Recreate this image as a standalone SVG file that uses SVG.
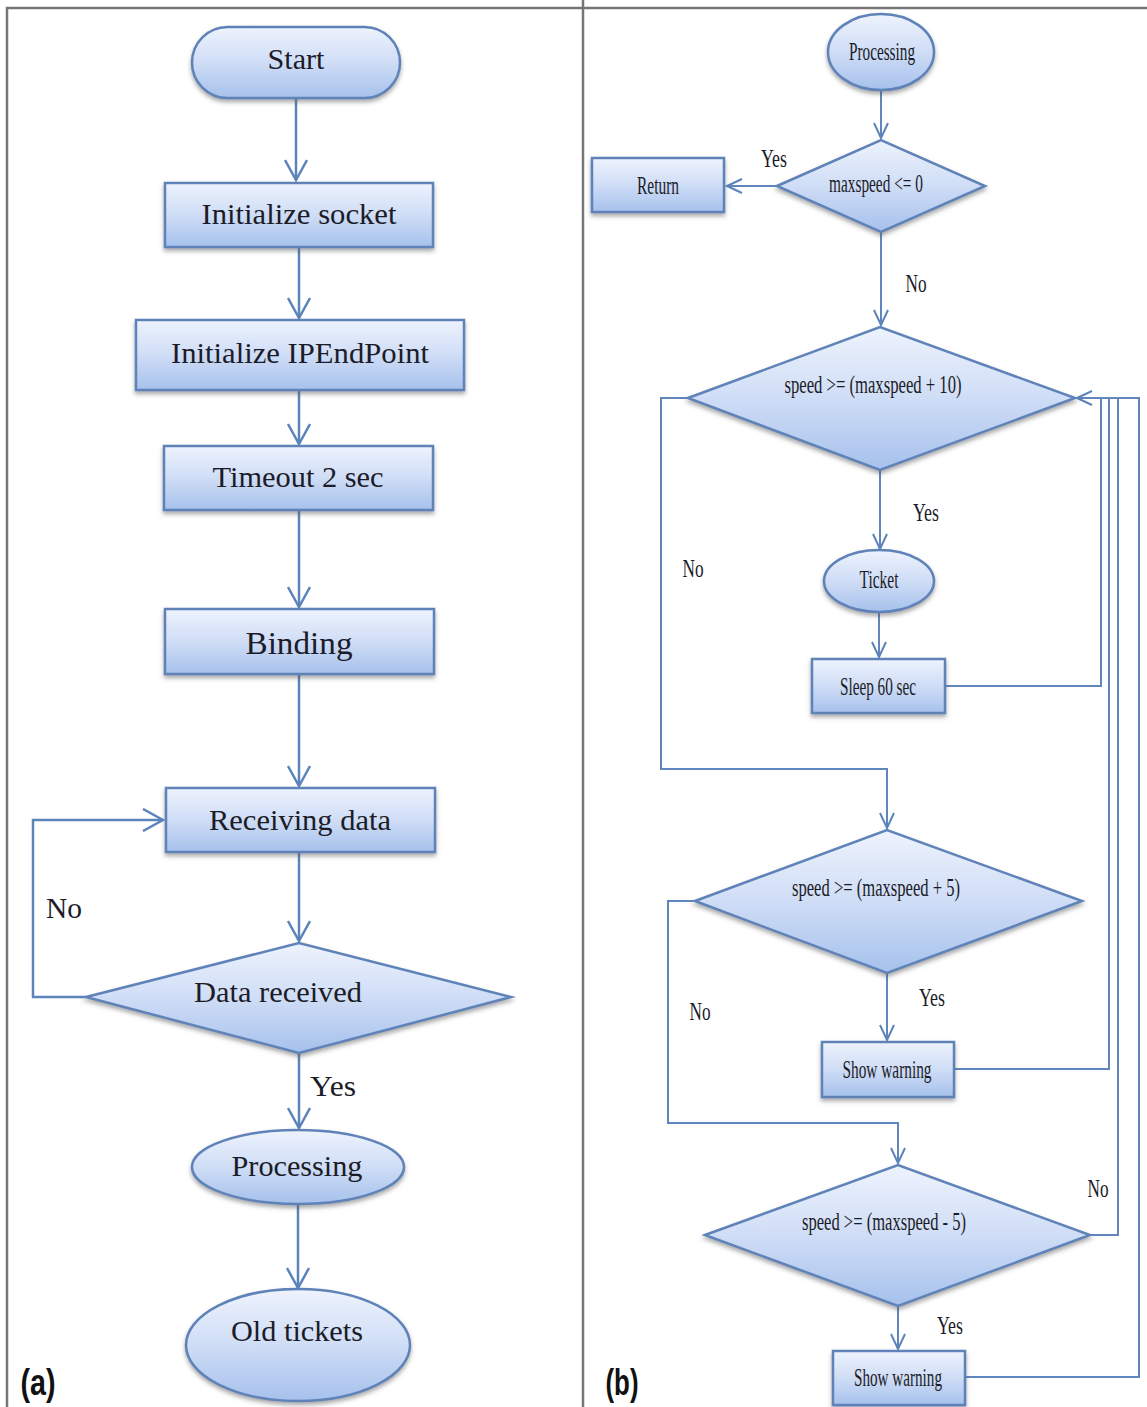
<svg xmlns="http://www.w3.org/2000/svg" width="1147" height="1407" viewBox="0 0 1147 1407">
<defs>
<linearGradient id="g" x1="0" y1="0" x2="0" y2="1">
<stop offset="0" stop-color="#eef3fd"/>
<stop offset="0.5" stop-color="#cfddf6"/>
<stop offset="1" stop-color="#a6c1ec"/>
</linearGradient>
<filter id="sh" x="-10%" y="-10%" width="120%" height="130%">
<feDropShadow dx="0" dy="3" stdDeviation="2" flood-color="#555" flood-opacity="0.5"/>
</filter>
<marker id="ab" viewBox="0 0 24 24" refX="22" refY="12" markerWidth="24" markerHeight="24" markerUnits="userSpaceOnUse" orient="auto">
<path d="M2,1 L22,12 L2,23" fill="none" stroke="#5b84bb" stroke-width="2.5"/>
</marker>
<marker id="as" viewBox="0 0 18 16" refX="16" refY="8" markerWidth="18" markerHeight="16" markerUnits="userSpaceOnUse" orient="auto">
<path d="M1,1 L16,8 L1,15" fill="none" stroke="#5b84bb" stroke-width="2"/>
</marker>
</defs>
<style>
.n{fill:url(#g);stroke:#5f83b8;stroke-width:2.5;filter:url(#sh)}
.c{fill:none;stroke:#5b84bb;stroke-width:2.5}
.cs{fill:none;stroke:#6086bb;stroke-width:2}
.t{font-family:"Liberation Serif","Times New Roman",serif;fill:#1c1c28;text-anchor:middle;dominant-baseline:central}
.l{font-size:30px}
.r{font-size:25px}
.lab{font-family:"Liberation Sans",Arial,sans-serif;font-weight:bold;font-size:36px;fill:#111;text-anchor:middle;dominant-baseline:central}
.bd{fill:none;stroke:#777;stroke-width:2.5}
</style>
<rect width="1147" height="1407" fill="#fff"/>
<g id="frame">
<path class="bd" d="M7,1407 V8 H1147"/>
<path class="bd" d="M583,0 V1407"/>
</g>
<g id="connectors">
<path class="c" d="M296,98 V180" marker-end="url(#ab)"/>
<path class="c" d="M299,247 V318" marker-end="url(#ab)"/>
<path class="c" d="M299,390 V444" marker-end="url(#ab)"/>
<path class="c" d="M299,510 V607" marker-end="url(#ab)"/>
<path class="c" d="M299,674 V786" marker-end="url(#ab)"/>
<path class="c" d="M299,852 V941" marker-end="url(#ab)"/>
<path class="c" d="M86,997 H33 V820 H163" marker-end="url(#ab)"/>
<path class="c" d="M299,1053 V1128" marker-end="url(#ab)"/>
<path class="c" d="M298,1204 V1288" marker-end="url(#ab)"/>
<path class="cs" d="M881,90 V138" marker-end="url(#as)"/>
<path class="cs" d="M777,186 H727" marker-end="url(#as)"/>
<path class="cs" d="M881,232 V325" marker-end="url(#as)"/>
<path class="cs" d="M880,470 V549" marker-end="url(#as)"/>
<path class="cs" d="M879,612 V657" marker-end="url(#as)"/>
<path class="cs" d="M945,686 H1101 V398"/>
<path class="cs" d="M954,1069 H1109 V398"/>
<path class="cs" d="M1090,1235 H1118 V398"/>
<path class="cs" d="M965,1377 H1139 V398 H1077" marker-end="url(#as)"/>
<path class="cs" d="M688,398 H661 V769 H887 V828" marker-end="url(#as)"/>
<path class="cs" d="M887,973 V1040" marker-end="url(#as)"/>
<path class="cs" d="M695,901 H668 V1123 H898 V1163" marker-end="url(#as)"/>
<path class="cs" d="M898,1306 V1349" marker-end="url(#as)"/>
</g>
<g id="n-start"><rect class="n" x="192" y="27" width="208" height="71" rx="35.5"/><text class="t l" x="296" y="58" textLength="57" lengthAdjust="spacingAndGlyphs">Start</text></g>
<g id="n-socket"><rect class="n" x="165" y="183" width="268" height="64"/><text class="t l" x="299" y="213" textLength="195" lengthAdjust="spacingAndGlyphs">Initialize socket</text></g>
<g id="n-ipendpoint"><rect class="n" x="136" y="320" width="328" height="70"/><text class="t l" x="300" y="352" textLength="258" lengthAdjust="spacingAndGlyphs">Initialize IPEndPoint</text></g>
<g id="n-timeout"><rect class="n" x="164" y="446" width="269" height="64"/><text class="t l" x="298" y="476" textLength="171" lengthAdjust="spacingAndGlyphs">Timeout 2 sec</text></g>
<g id="n-binding"><rect class="n" x="165" y="609" width="269" height="65"/><text class="t l" x="299" y="643" textLength="107" lengthAdjust="spacingAndGlyphs" style="font-size:32px">Binding</text></g>
<g id="n-receiving"><rect class="n" x="166" y="788" width="269" height="64"/><text class="t l" x="300" y="819" textLength="182" lengthAdjust="spacingAndGlyphs">Receiving data</text></g>
<g id="n-datareceived"><polygon class="n" points="86,997 299,943 511,997 299,1053"/><text class="t l" x="278" y="991" textLength="168" lengthAdjust="spacingAndGlyphs">Data received</text></g>
<g id="n-processing-a"><ellipse class="n" cx="298" cy="1167" rx="106" ry="37"/><text class="t l" x="297" y="1165" textLength="131" lengthAdjust="spacingAndGlyphs">Processing</text></g>
<g id="n-oldtickets"><ellipse class="n" cx="298" cy="1345" rx="112" ry="56"/><text class="t l" x="297" y="1330" textLength="132" lengthAdjust="spacingAndGlyphs">Old tickets</text></g>
<g id="labels-a">
<text class="t l" x="64" y="907" textLength="36" lengthAdjust="spacingAndGlyphs">No</text>
<text class="t l" x="333" y="1085" textLength="46" lengthAdjust="spacingAndGlyphs">Yes</text>
<text class="lab" x="38" y="1382" textLength="35" lengthAdjust="spacingAndGlyphs">(a)</text>
</g>
<g id="n-processing-b"><ellipse class="n" cx="881" cy="52" rx="53" ry="38"/><text class="t r" x="882" y="51" textLength="66" lengthAdjust="spacingAndGlyphs">Processing</text></g>
<g id="n-maxspeed0"><polygon class="n" points="777,186 881,140 985,186 881,232"/><text class="t r" x="876" y="183" textLength="94" lengthAdjust="spacingAndGlyphs">maxspeed &lt;= 0</text></g>
<g id="n-return"><rect class="n" x="592" y="158" width="132" height="54"/><text class="t r" x="658" y="185" textLength="42" lengthAdjust="spacingAndGlyphs">Return</text></g>
<g id="n-plus10"><polygon class="n" points="688,398 880,327 1075,398 880,470"/><text class="t r" x="873" y="384" textLength="177" lengthAdjust="spacingAndGlyphs">speed &gt;= (maxspeed + 10)</text></g>
<g id="n-ticket"><ellipse class="n" cx="879" cy="581" rx="55" ry="31"/><text class="t r" x="879" y="579" textLength="39" lengthAdjust="spacingAndGlyphs">Ticket</text></g>
<g id="n-sleep"><rect class="n" x="812" y="659" width="133" height="54"/><text class="t r" x="878" y="686" textLength="76" lengthAdjust="spacingAndGlyphs">Sleep 60 sec</text></g>
<g id="n-plus5"><polygon class="n" points="695,901 887,830 1082,901 887,973"/><text class="t r" x="876" y="887" textLength="168" lengthAdjust="spacingAndGlyphs">speed &gt;= (maxspeed + 5)</text></g>
<g id="n-warning1"><rect class="n" x="822" y="1042" width="132" height="55"/><text class="t r" x="887" y="1069" textLength="89" lengthAdjust="spacingAndGlyphs">Show warning</text></g>
<g id="n-minus5"><polygon class="n" points="705,1235 898,1165 1090,1235 898,1306"/><text class="t r" x="884" y="1221" textLength="164" lengthAdjust="spacingAndGlyphs">speed &gt;= (maxspeed - 5)</text></g>
<g id="n-warning2"><rect class="n" x="833" y="1351" width="132" height="54"/><text class="t r" x="898" y="1377" textLength="88" lengthAdjust="spacingAndGlyphs">Show warning</text></g>
<g id="labels-b">
<text class="t r" x="774" y="158" textLength="26" lengthAdjust="spacingAndGlyphs">Yes</text>
<text class="t r" x="916" y="283" textLength="21" lengthAdjust="spacingAndGlyphs">No</text>
<text class="t r" x="926" y="512" textLength="26" lengthAdjust="spacingAndGlyphs">Yes</text>
<text class="t r" x="693" y="568" textLength="21" lengthAdjust="spacingAndGlyphs">No</text>
<text class="t r" x="932" y="997" textLength="26" lengthAdjust="spacingAndGlyphs">Yes</text>
<text class="t r" x="700" y="1011" textLength="21" lengthAdjust="spacingAndGlyphs">No</text>
<text class="t r" x="1098" y="1188" textLength="21" lengthAdjust="spacingAndGlyphs">No</text>
<text class="t r" x="950" y="1325" textLength="26" lengthAdjust="spacingAndGlyphs">Yes</text>
<text class="lab" x="622" y="1382" textLength="33" lengthAdjust="spacingAndGlyphs">(b)</text>
</g>
</svg>
